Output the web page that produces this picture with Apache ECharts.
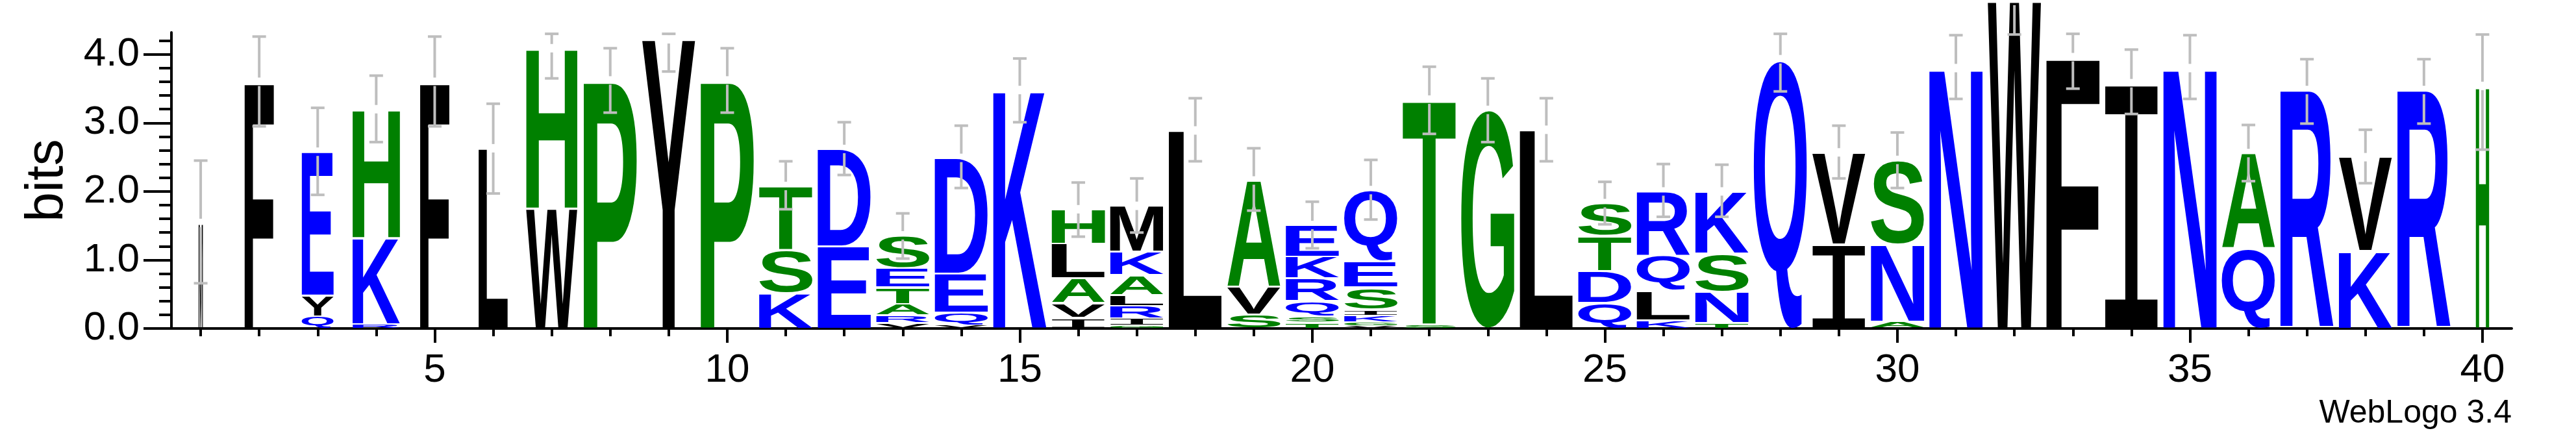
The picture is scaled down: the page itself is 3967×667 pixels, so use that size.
<!DOCTYPE html>
<html><head><meta charset="utf-8">
<script src="https://cdn.jsdelivr.net/npm/echarts@6/dist/echarts.min.js"></script>
<style>html,body{margin:0;padding:0;background:#fff}#c{width:3967px;height:667px}</style>
</head><body><div id="c"></div>
<script>
// ---- data (WebLogo 3.4 sequence logo) ----
const positions = [1,2,3,4,5,6,7,8,9,10,11,12,13,14,15,16,17,18,19,20,21,22,23,24,25,26,27,28,29,30,31,32,33,34,35,36,37,38,39,40];
// letters in each stack, bottom to top
const stackLetters = ["M","F","QYE","RKH","F","L","WH","P","Y","P","KST","ED","VRATES","VQED","K","IVALH","GIRLAKM","L","SVA","TSQRKE","VGKISEQ","ST","G","L","QDTS","KLQR","TNSK","Q","IV","ANS","N","W","F","I","N","QA","R","KV","R","H"];
// height (bits) of each letter, bottom to top
const stackHeights = [
  [1.54],[3.60],[0.18,0.30,2.10],[0.06,1.26,1.88],[3.60],[2.63],[1.75,2.34],[3.62],[4.22],[3.62],
  [0.52,0.63,0.93],[1.20,1.42],[0.08,0.11,0.17,0.24,0.28,0.48],[0.05,0.18,0.57,1.69],[3.48],
  [0.16,0.21,0.36,0.51,0.50],[0.04,0.11,0.18,0.16,0.29,0.34,0.67],[2.89],[0.20,0.40,1.56],
  [0.09,0.09,0.22,0.33,0.32,0.46],[0.04,0.05,0.10,0.09,0.32,0.38,1.04],[0.06,3.28],[3.19],[2.90],
  [0.37,0.47,0.51,0.48],[0.12,0.43,0.51,0.94],[0.08,0.46,0.55,0.91],[3.93],[1.23,1.34],[0.10,1.13,1.23],
  [3.80],[4.78],[3.96],[3.58],[3.80],[1.16,1.40],[3.48],[1.13,1.37],[3.48],[3.54]
];
// stack width as fraction of a full column (gappy columns are narrow)
const widthFrac = [0.08,0.55,0.60,0.89,0.55,0.55,0.96,1,1,1,1,1,1,1,1,1,1,1,1,1,1,1,1,1,1,1,1,1,1,1,1,1,1,1,1,1,1,1,1,0.25];
// error bar ends (bits)
const errLow  = [0.66,2.95,1.95,2.72,2.95,1.97,3.65,3.15,3.75,3.15,1.74,2.24,1.02,2.05,3.01,1.34,1.40,2.44,1.72,1.17,1.59,2.84,2.72,2.44,1.52,1.63,1.63,3.46,2.19,2.05,3.35,4.29,3.50,3.13,3.35,2.15,2.99,2.12,2.99,2.61];
const errHigh = [2.45,4.26,3.22,3.69,4.26,3.28,4.30,4.09,4.30,4.09,2.44,3.01,1.68,2.96,3.94,2.13,2.19,3.36,2.63,1.85,2.46,3.82,3.65,3.36,2.14,2.40,2.39,4.30,2.96,2.86,4.28,5.27,4.30,4.07,4.28,2.97,3.93,2.90,3.93,4.29];
const xTickLabels = [5,10,15,20,25,30,35,40];
const yTickValues = [0,1,2,3,4];
const yMinorTicks = [0.2,0.4,0.6,0.8,1.2,1.4,1.6,1.8,2.2,2.4,2.6,2.8,3.2,3.4,3.6,3.8,4.2];
const yMax = 4.32;

// ---- hydrophobicity colour scheme ----
const blueSet = "RKDENQ", greenSet = "SGHTAP";
function colorOf(ch){ return blueSet.includes(ch) ? '#0000ff' : (greenSet.includes(ch) ? '#008000' : '#000000'); }
function fontOf(ch){ return ch === 'I' ? '200px "Liberation Mono"' : 'bold 200px "Liberation Sans"'; }

const mctx = document.createElement('canvas').getContext('2d');
const metricCache = {};
function metrics(ch){
  if (metricCache[ch]) return metricCache[ch];
  const font = fontOf(ch);
  mctx.font = font; mctx.textBaseline = 'middle'; mctx.textAlign = 'left';
  const m = mctx.measureText(ch);
  const r = {font, abl: m.actualBoundingBoxLeft, w: m.actualBoundingBoxLeft + m.actualBoundingBoxRight,
             desc: m.actualBoundingBoxDescent, h: m.actualBoundingBoxAscent + m.actualBoundingBoxDescent};
  metricCache[ch] = r; return r;
}

// build letter items and error items
const letterItems = [], letterChars = [], errItems = [];
positions.forEach((p, i) => {
  let lo = 0;
  const letters = stackLetters[i].split('');
  letters.forEach((ch, j) => {
    const h = stackHeights[i][j];
    letterItems.push([p, lo, lo + h, widthFrac[i]]);
    letterChars.push(ch);
    lo += h;
  });
  errItems.push([p, errLow[i], errHigh[i], lo]);
});

function renderLetter(params, api){
  const pos = api.value(0), lo = api.value(1), hi = api.value(2), wf = api.value(3);
  const ch = letterChars[params.dataIndex];
  const half = 0.455 * wf;
  const a = api.coord([pos - half, hi]);
  const b = api.coord([pos + half, lo]);
  let x0 = a[0], y0 = a[1], x1 = b[0], y1 = b[1];
  const inset = Math.min(1.5, (y1 - y0) * 0.15);
  y0 += inset; y1 -= inset;
  const m = metrics(ch);
  return {
    type: 'text', x: x0, y: y1,
    scaleX: (x1 - x0) / m.w, scaleY: (y1 - y0) / m.h,
    silent: true,
    style: {text: ch, x: m.abl, y: -m.desc, font: m.font, fill: colorOf(ch), align: 'left', verticalAlign: 'middle', lineWidth: 0}
  };
}

function renderErr(params, api){
  const pos = api.value(0), lo = api.value(1), hi = api.value(2), top = api.value(3);
  const pl = api.coord([pos, lo]), ph = api.coord([pos, hi]), pt = api.coord([pos, top]);
  const x = pl[0], cw = 10.5, gap = 6.5;
  const st = {stroke: '#bebebe', lineWidth: 4};
  return {type: 'group', silent: true, children: [
    {type: 'line', shape: {x1: x, y1: ph[1], x2: x, y2: pt[1] - gap}, style: st},
    {type: 'line', shape: {x1: x, y1: pt[1] + gap, x2: x, y2: pl[1]}, style: st},
    {type: 'line', shape: {x1: x - cw, y1: ph[1], x2: x + cw, y2: ph[1]}, style: st},
    {type: 'line', shape: {x1: x - cw, y1: pl[1], x2: x + cw, y2: pl[1]}, style: st}
  ]};
}

const FONT = '"Liberation Sans", Arial, sans-serif';
const chart = echarts.init(document.getElementById('c'), null, {renderer: 'canvas', width: 3967, height: 667});
chart.setOption({
  animation: false,
  backgroundColor: '#ffffff',
  grid: {left: 264, right: 99, top: 50, bottom: 161, containLabel: false},
  xAxis: [
    {type: 'value', min: 0.5, max: 40.5, position: 'bottom',
     axisLine: {show: true, lineStyle: {color: '#000', width: 4}},
     axisTick: {show: true, customValues: positions, length: 12, lineStyle: {color: '#000', width: 4}},
     axisLabel: {show: false}, splitLine: {show: false}},
    {type: 'value', min: 0.5, max: 40.5, position: 'bottom',
     axisLine: {show: false},
     axisTick: {show: true, customValues: xTickLabels, length: 22, lineStyle: {color: '#000', width: 4}},
     axisLabel: {show: true, customValues: xTickLabels, fontSize: 62, fontFamily: FONT, color: '#000', margin: 34},
     splitLine: {show: false}}
  ],
  yAxis: [
    {type: 'value', min: 0, max: yMax, position: 'left',
     name: 'bits', nameLocation: 'middle', nameGap: 150,
     nameTextStyle: {fontSize: 82, fontFamily: FONT, color: '#000'},
     axisLine: {show: true, lineStyle: {color: '#000', width: 4}},
     axisTick: {show: true, customValues: yTickValues, length: 43, lineStyle: {color: '#000', width: 4}},
     axisLabel: {show: true, customValues: yTickValues, formatter: v => v.toFixed(1), fontSize: 62, fontFamily: FONT, color: '#000', margin: 49},
     splitLine: {show: false}},
    {type: 'value', min: 0, max: yMax, position: 'left',
     axisLine: {show: false},
     axisTick: {show: true, customValues: yMinorTicks, length: 19, lineStyle: {color: '#000', width: 4}},
     axisLabel: {show: false}, splitLine: {show: false}}
  ],
  graphic: [
    {type: 'text', right: 99, top: 612, style: {text: 'WebLogo 3.4', font: '50px ' + FONT, fill: '#000'}}
  ],
  series: [
    {type: 'custom', name: 'letters', xAxisIndex: 0, yAxisIndex: 0, renderItem: renderLetter,
     encode: {x: 0, y: [1, 2]}, data: letterItems, z: 2, clip: false},
    {type: 'custom', name: 'error', xAxisIndex: 0, yAxisIndex: 0, renderItem: renderErr,
     encode: {x: 0, y: [1, 2]}, data: errItems, z: 3, clip: false}
  ]
});
</script></body></html>
